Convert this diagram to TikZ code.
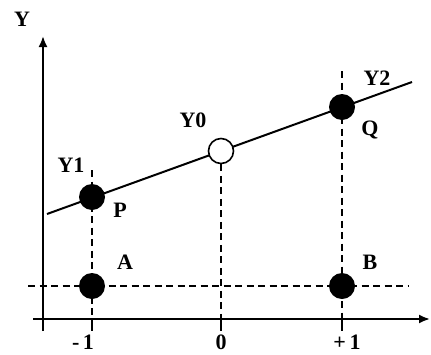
\documentclass[tikz,border=0pt]{standalone}
\usepackage{fontspec}
\setmainfont{Liberation Serif}
\usetikzlibrary{arrows.meta}
\begin{document}
\begin{tikzpicture}[x=1pt,y=-1pt,
  axis/.style={line width=2pt,-{Latex[length=11pt,width=9pt]}},
  guide/.style={line width=2pt,dash pattern=on 7pt off 4.5pt},
  tickmark/.style={line width=2pt},
  dot/.style={circle,fill=black,inner sep=0pt,minimum size=26pt},
  hollow/.style={circle,draw=black,line width=1.6pt,fill=white,inner sep=0pt,minimum size=25pt},
  lbl/.style={font=\fontsize{22}{25}\selectfont\bfseries,inner sep=0pt}]
\useasboundingbox (0,0) rectangle (431,354);
% axes
\coordinate (yb) at (43,331);
\coordinate (yt) at (43,36);
\coordinate (xl) at (33,319);
\coordinate (xr) at (430,319);
\draw[axis] (yb) -- (yt);
\draw[axis] (xl) -- (xr);
% axis points
\coordinate (xm) at (92,319);
\coordinate (x0) at (221,319);
\coordinate (xp) at (342,319);
\coordinate (tm) at (92,331);
\coordinate (t0) at (221,331);
\coordinate (tp) at (342,331);
\draw[tickmark] (xm) -- (tm);
\draw[tickmark] (x0) -- (t0);
\draw[tickmark] (xp) -- (tp);
% horizontal guide
\coordinate (hl) at (28,286);
\coordinate (hr) at (408,286);
\draw[guide] (hl) -- (hr);
% vertical guide tops
\coordinate (vm) at (92,170);
\coordinate (vp) at (342,71);
% regression line ends
\coordinate (ls) at (47,214);
\coordinate (le) at (412,82);
\draw[guide] (vm) -- (xm);
\draw[guide] (vp) -- (xp);
\draw[line width=2pt] (ls) -- (le);
\node[hollow] (Y0) at (221,151) {};
\draw[guide] (Y0.south) -- (x0);
\node[dot] (P) at (92,197) {};
\node[dot] (Q) at (342,107) {};
\node[dot] (A) at (92,286) {};
\node[dot] (B) at (342,286) {};
% labels
\node[lbl] (ly) at (22,19) {Y};
\node[lbl] (ly1) at (71,165) {Y1};
\node[lbl] (lp) at (120,210) {P};
\node[lbl] (la) at (125,262) {A};
\node[lbl] (ly0) at (193,120) {Y0};
\node[lbl] (ly2) at (377,78) {Y2};
\node[lbl] (lq) at (370,130) {Q};
\node[lbl] (lb) at (370,262) {B};
\node[lbl] (lm1) at (83,342) {-\,1};
\node[lbl] (l0) at (221,342) {0};
\node[lbl] (lp1) at (347,342) {+\,1};
\end{tikzpicture}
\end{document}
